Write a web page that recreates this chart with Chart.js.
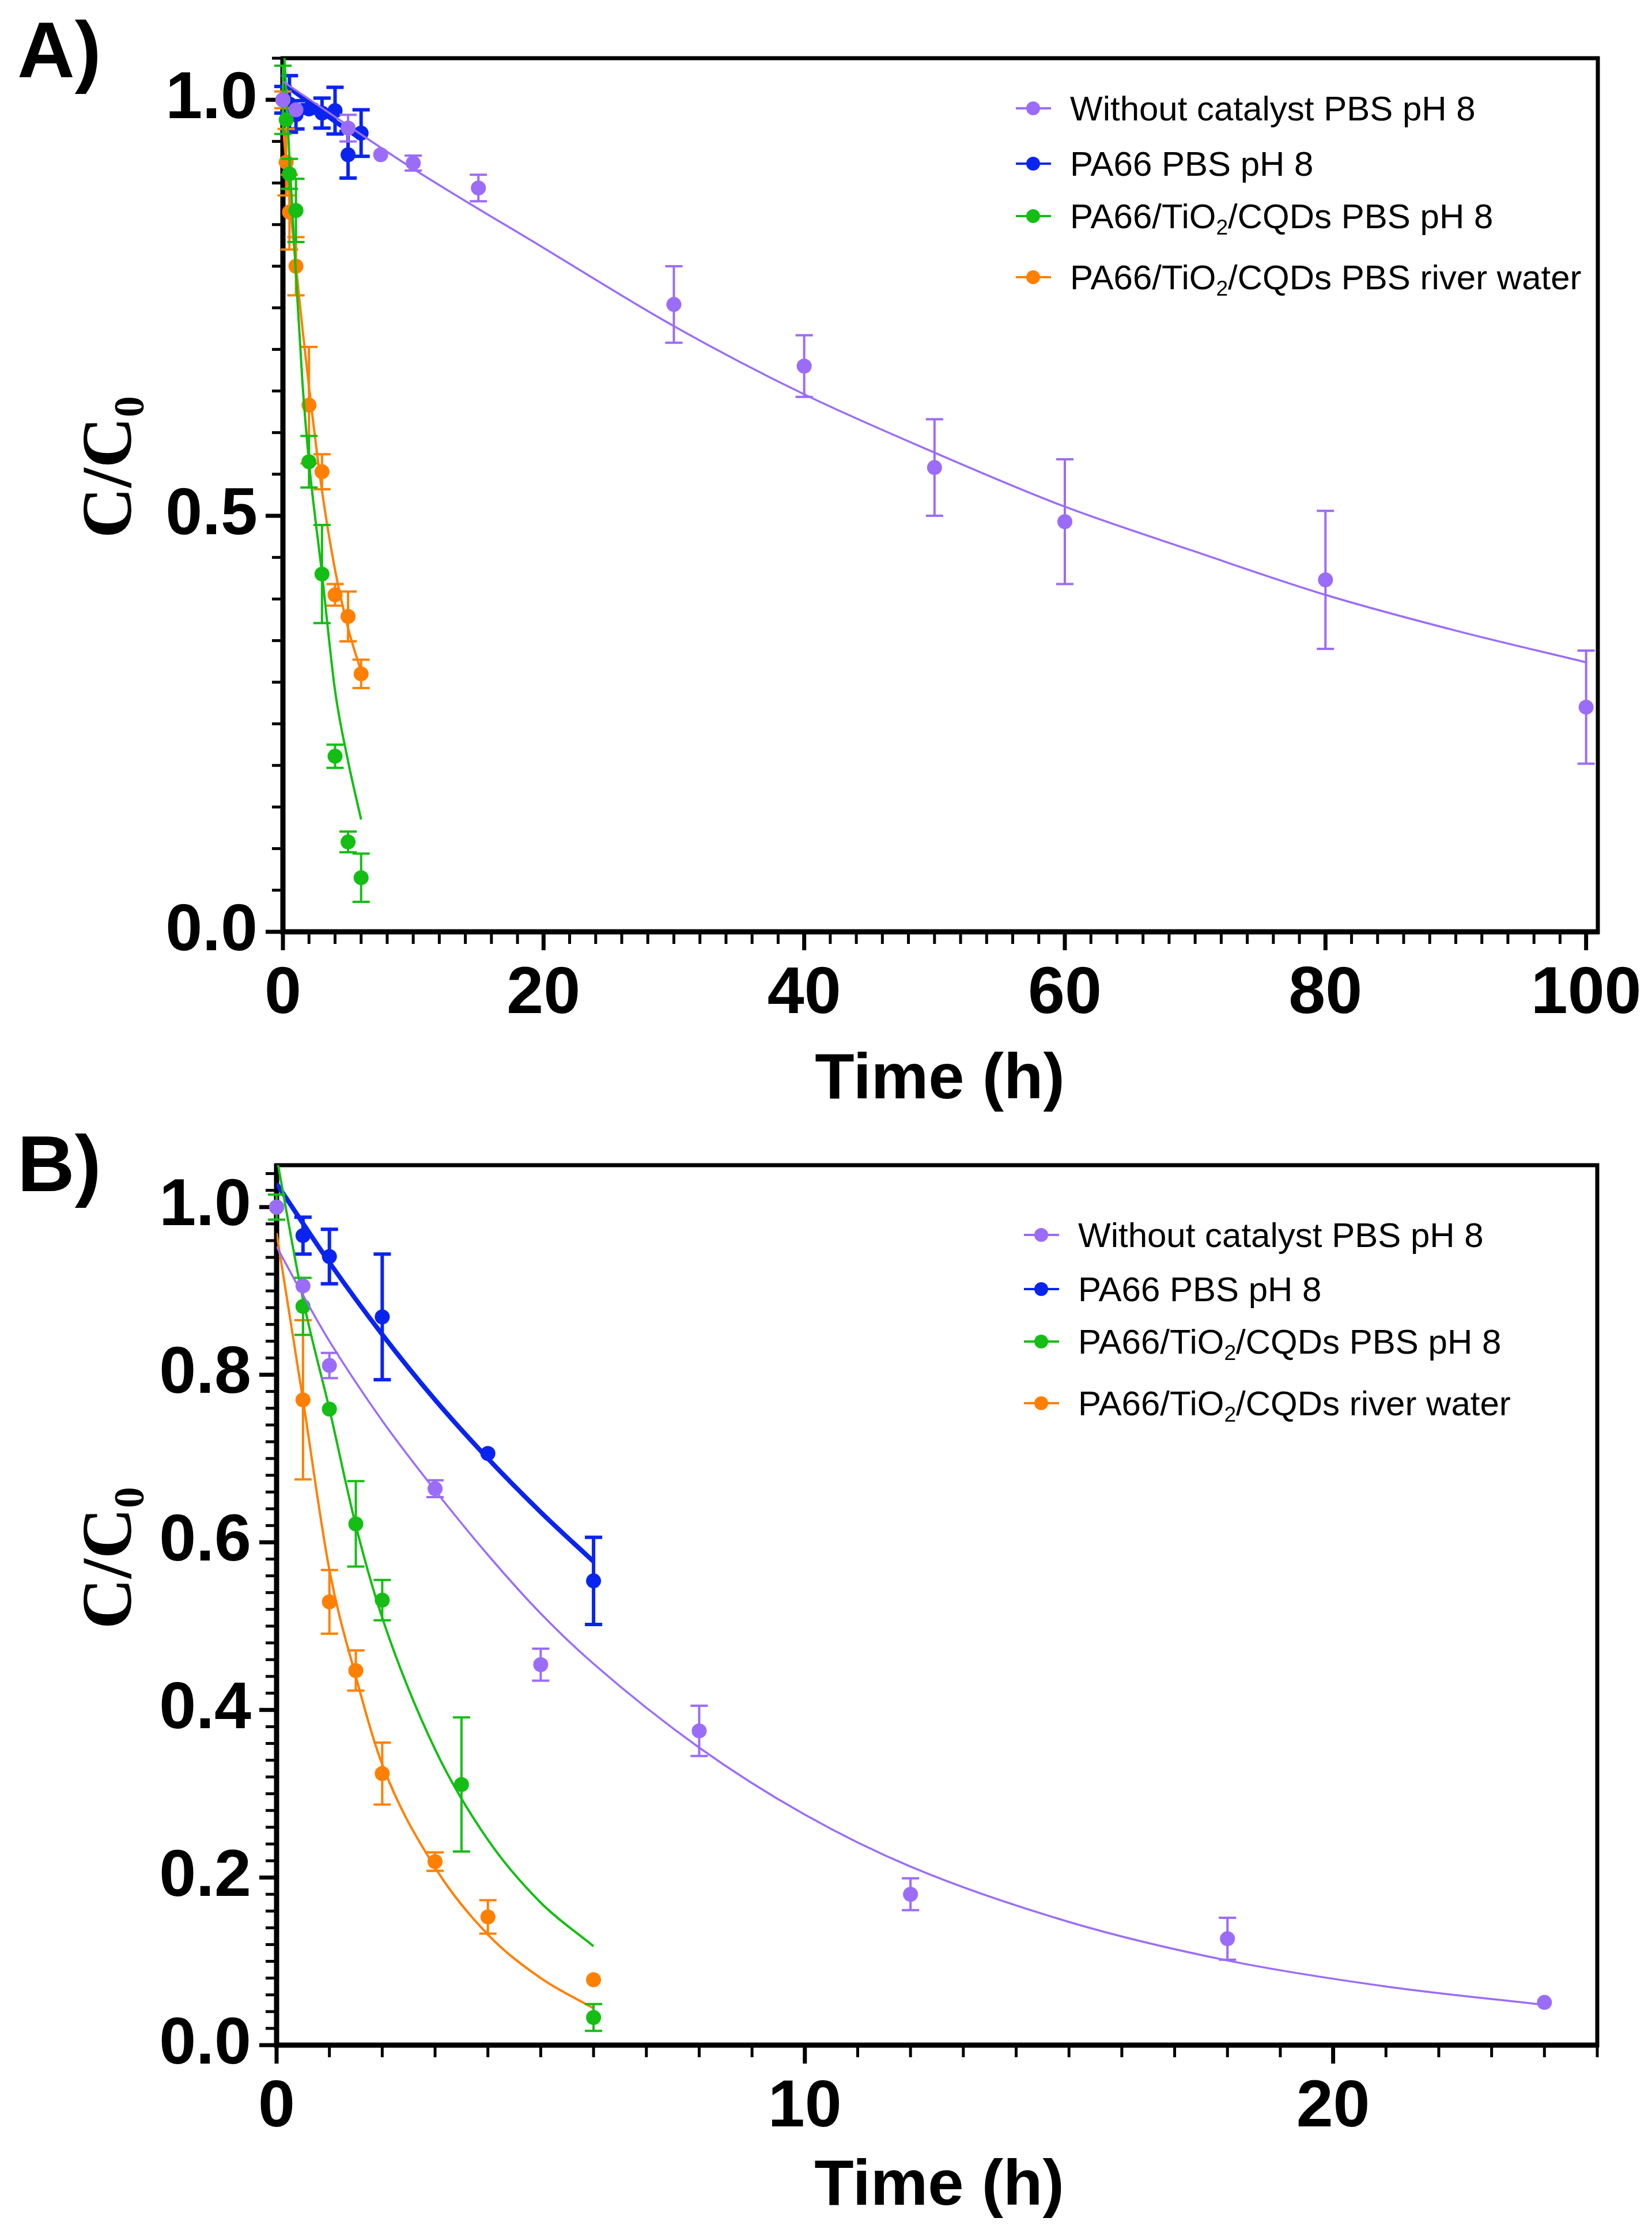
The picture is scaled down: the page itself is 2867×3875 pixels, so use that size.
<!DOCTYPE html>
<html>
<head>
<meta charset="utf-8">
<script src="https://cdn.jsdelivr.net/npm/chart.js@4.4.1/dist/chart.umd.min.js"></script>
<style>
  html, body { margin: 0; padding: 0; background: #fff; }
  body { position: relative; width: 2867px; height: 3875px; overflow: hidden; font-family: 'Liberation Sans', Arial, sans-serif; }
  canvas { position: absolute; left: 0; }
  .panel { position: absolute; font-weight: bold; font-size: 138px; line-height: 1; }
  .xtitle { position: absolute; font-weight: bold; font-size: 112px; line-height: 1; transform: translateX(-50%); white-space: nowrap; }
  .ytitle { position: absolute; font-family: 'Liberation Serif', 'Times New Roman', serif; font-weight: bold; font-size: 122px; line-height: 1; transform-origin: 0 0; transform: rotate(-90deg); white-space: nowrap; }
  .ytitle span { font-size: 0.6em; position: relative; top: 0.3em; line-height: 0; }
  .row { position: absolute; height: 0; }
  .mk { position: absolute; left: 0; top: -2px; width: 61px; height: 4px; background: var(--c); }
  .mk::after { content: ''; position: absolute; left: 18px; top: -10px; width: 24px; height: 24px; border-radius: 50%; background: var(--c); }
  .row span.t { position: absolute; left: 94px; top: -29px; font-size: 60px; line-height: 1; white-space: nowrap; }
  .row sub { font-size: 0.62em; vertical-align: -0.3em; line-height: 0; }
</style>
</head>
<body>
<canvas id="chartA" width="2867" height="1937" style="top:0"></canvas>
<canvas id="chartB" width="2867" height="1938" style="top:1937px"></canvas>

<div class="panel" style="left:30px; top:17px">A)</div>
<div class="panel" style="left:30px; top:1950px">B)</div>

<div class="ytitle" style="left:125px; top:934px">C/C<span>0</span></div>
<div class="ytitle" style="left:125px; top:2827px">C/C<span>0</span></div>

<div class="xtitle" style="left:1631px; top:1812px">Time (h)</div>
<div class="xtitle" style="left:1630px; top:3732px">Time (h)</div>

<!-- leyenda A -->
<div class="row" style="left:1763px; top:188px; --c:#9b6cf7"><i class="mk"></i><span class="t">Without catalyst PBS pH 8</span></div>
<div class="row" style="left:1763px; top:284px; --c:#0a24f0"><i class="mk"></i><span class="t">PA66 PBS pH 8</span></div>
<div class="row" style="left:1763px; top:375px; --c:#14be14"><i class="mk"></i><span class="t">PA66/TiO<sub>2</sub>/CQDs PBS pH 8</span></div>
<div class="row" style="left:1763px; top:481px; --c:#ff8000"><i class="mk"></i><span class="t">PA66/TiO<sub>2</sub>/CQDs PBS river water</span></div>

<!-- leyenda B -->
<div class="row" style="left:1777px; top:2143px; --c:#9b6cf7"><i class="mk"></i><span class="t">Without catalyst PBS pH 8</span></div>
<div class="row" style="left:1777px; top:2237px; --c:#0a24f0"><i class="mk"></i><span class="t">PA66 PBS pH 8</span></div>
<div class="row" style="left:1777px; top:2328px; --c:#14be14"><i class="mk"></i><span class="t">PA66/TiO<sub>2</sub>/CQDs PBS pH 8</span></div>
<div class="row" style="left:1777px; top:2435px; --c:#ff8000"><i class="mk"></i><span class="t">PA66/TiO<sub>2</sub>/CQDs river water</span></div>

<script>
// datos panel A (tiempo en h, C/C0 y error)
const purpleA_t = [0, 1, 5, 7.5, 10, 15, 30, 40, 50, 60, 80, 100];
const purpleA_v = [1.0, 0.988, 0.966, 0.934, 0.924, 0.894, 0.754, 0.680, 0.558, 0.493, 0.423, 0.270];
const purpleA_e = [0, 0, 0.016, 0, 0.009, 0.016, 0.046, 0.037, 0.058, 0.075, 0.083, 0.068];

const blueA_t = [0, 0.5, 1, 2, 3, 4, 5, 6];
const blueA_v = [1.0, 0.995, 0.982, 0.989, 0.984, 0.987, 0.934, 0.960];
const blueA_e = [0.016, 0.034, 0.017, 0.005, 0.018, 0.028, 0.028, 0.028];

const greenA_t = [0, 0.25, 0.5, 1, 2, 3, 4, 5, 6];
const greenA_v = [1.0, 0.976, 0.911, 0.867, 0.565, 0.430, 0.211, 0.108, 0.065];
const greenA_e = [0.041, 0, 0.018, 0.038, 0.031, 0.059, 0.014, 0.0125, 0.029];

const orangeA_t = [0, 0.25, 0.5, 1, 2, 3, 4, 5, 6];
const orangeA_v = [1.0, 0.925, 0.865, 0.800, 0.633, 0.553, 0.405, 0.379, 0.310];
const orangeA_e = [0.01, 0.04, 0.045, 0.035, 0.07, 0.021, 0.013, 0.030, 0.017];

// curvas ajustadas A
const purpleFitA_t = [0, 10, 20, 30, 40, 50, 60, 70, 80, 90, 100];
const purpleFitA_v = [1.022, 0.917, 0.822, 0.728, 0.646, 0.576, 0.511, 0.457, 0.405, 0.362, 0.324];
const blueFitA_t = [0, 2, 4, 6];
const blueFitA_v = [1.02, 0.997, 0.974, 0.953];
const greenFitA_t = [0, 0.5, 1, 1.5, 2, 3, 4, 5, 6];
const greenFitA_v = [1.09, 0.93, 0.79, 0.66, 0.565, 0.43, 0.29, 0.205, 0.135];
const orangeFitA_t = [0, 0.5, 1, 1.5, 2, 3, 4, 5, 6];
const orangeFitA_v = [0.97, 0.88, 0.80, 0.725, 0.655, 0.53, 0.435, 0.365, 0.313];

// datos panel B
const purpleB_t = [0, 0.5, 1, 3, 5, 8, 12, 18, 24];
const purpleB_v = [1.0, 0.906, 0.811, 0.664, 0.454, 0.375, 0.180, 0.127, 0.051];
const purpleB_e = [0, 0, 0.015, 0.01, 0.019, 0.03, 0.019, 0.025, 0];

const blueB_t = [0, 0.5, 1, 2, 4, 6];
const blueB_v = [1.0, 0.966, 0.941, 0.869, 0.706, 0.554];
const blueB_e = [0, 0.022, 0.0325, 0.075, 0, 0.052];

const greenB_t = [0, 0.5, 1, 1.5, 2, 3.5, 6];
const greenB_v = [1.0, 0.8815, 0.759, 0.622, 0.531, 0.311, 0.033];
const greenB_e = [0.015, 0.034, 0, 0.051, 0.024, 0.08, 0.016];

const orangeB_t = [0, 0.5, 1, 1.5, 2, 3, 4, 6];
const orangeB_v = [1.0, 0.770, 0.529, 0.447, 0.324, 0.219, 0.153, 0.078];
const orangeB_e = [0, 0.095, 0.038, 0.024, 0.037, 0.011, 0.020, 0];

// curvas ajustadas B
const purpleFitB_t = [0, 0.5, 1, 2, 3, 4, 5, 6, 8, 10, 12, 15, 18, 21, 24];
const purpleFitB_v = [0.953, 0.895, 0.84, 0.745, 0.662, 0.585, 0.515, 0.455, 0.355, 0.275, 0.213, 0.147, 0.101, 0.07, 0.048];
const blueFitB_t = [0, 1, 2, 3, 4, 5, 6];
const blueFitB_v = [1.028, 0.934, 0.848, 0.770, 0.700, 0.636, 0.577];
const greenFitB_t = [0, 0.5, 1, 1.5, 2, 3, 4, 5, 6];
const greenFitB_v = [1.06, 0.89, 0.759, 0.62, 0.51, 0.353, 0.245, 0.17, 0.118];
const orangeFitB_t = [0, 0.5, 1, 1.5, 2, 3, 4, 5, 6];
const orangeFitB_v = [0.969, 0.77, 0.567, 0.44, 0.335, 0.212, 0.132, 0.08, 0.044];

// etiquetas de los ejes
const xTicksA = [0, 20, 40, 60, 80, 100];
const yTicksA = [0, 0.5, 1.0];
const xTicksB = [0, 10, 20];
const yTicksB = [0, 0.2, 0.4, 0.6, 0.8, 1.0];

const colores = { purple: '#9b6cf7', blue: '#0a24f0', green: '#14be14', orange: '#ff8000' };

function pares(t, v) {
    return t.map((x, i) => ({ x: x, y: v[i] }));
}

// barras de error con tapas
const errorBars = {
    id: 'errorBars',
    beforeDatasetDraw(chart, args) {
        const ds = chart.data.datasets[args.index];
        if (!ds.errors) return;
        const xs = chart.scales.x, ys = chart.scales.y;
        const ctx = chart.ctx;
        ctx.save();
        ctx.strokeStyle = ds.backgroundColor;
        ctx.lineWidth = ds.errWidth;
        ds.data.forEach((p, i) => {
            const e = ds.errors[i];
            if (!e) return;
            const x = xs.getPixelForValue(p.x);
            const y1 = ys.getPixelForValue(p.y + e);
            const y2 = ys.getPixelForValue(p.y - e);
            ctx.beginPath();
            ctx.moveTo(x, y1); ctx.lineTo(x, y2);
            ctx.moveTo(x - 15, y1); ctx.lineTo(x + 15, y1);
            ctx.moveTo(x - 15, y2); ctx.lineTo(x + 15, y2);
            ctx.stroke();
        });
        ctx.restore();
    }
};

// marco y marcas de los ejes (mayores y menores)
const marco = {
    id: 'marco',
    beforeDatasetsDraw(chart, args, opts) {
        const { ctx, chartArea: a, scales: { x, y } } = chart;
        ctx.save();
        ctx.strokeStyle = '#000';
        ctx.lineCap = 'butt';
        // eje x
        const nx = Math.round(opts.xLast / opts.xMinor);
        for (let i = 0; i <= nx; i++) {
            const px = x.getPixelForValue(i * opts.xMinor);
            const major = i % opts.xEvery === 0;
            ctx.lineWidth = major ? 7 : 5;
            ctx.beginPath();
            ctx.moveTo(px, a.bottom);
            ctx.lineTo(px, a.bottom + (major ? 32 : 21));
            ctx.stroke();
        }
        // eje y
        const ny = Math.round(opts.yLast / opts.yMinor);
        for (let i = 0; i <= ny; i++) {
            const py = y.getPixelForValue(i * opts.yMinor);
            const major = i % opts.yEvery === 0;
            ctx.lineWidth = major ? 7 : 5;
            ctx.beginPath();
            ctx.moveTo(a.left, py);
            ctx.lineTo(a.left - (major ? 30 : 19), py);
            ctx.stroke();
        }
        // marco
        ctx.lineWidth = 7;
        ctx.strokeRect(a.left, a.top, a.right - a.left, a.bottom - a.top);
        ctx.lineWidth = 9;
        ctx.beginPath();
        ctx.moveTo(a.left, a.top - 3);
        ctx.lineTo(a.left, a.bottom);
        ctx.lineTo(a.right + 3, a.bottom);
        ctx.stroke();
        ctx.restore();
    }
};

function puntos(t, v, e, color, orden, errW) {
    return {
        data: pares(t, v), errors: e, errWidth: errW,
        backgroundColor: color, borderColor: color,
        pointRadius: 13, pointBorderWidth: 0, pointHoverRadius: 13,
        showLine: false, clip: false, order: orden
    };
}

function ajuste(t, v, color, ancho, orden) {
    return {
        data: pares(t, v), borderColor: color, backgroundColor: color,
        borderWidth: ancho, pointRadius: 0, showLine: true,
        cubicInterpolationMode: 'monotone', clip: 0, order: orden
    };
}

const fuenteTicks = { family: "'Liberation Sans', Arial, sans-serif", size: 115, weight: 'bold', lineHeight: 1.2 };

// quita el relleno automatico que Chart.js pone por las etiquetas de los extremos
function sinRelleno(s) {
    s.paddingTop = 0;
    s.paddingBottom = 0;
    s.paddingLeft = 0;
    s.paddingRight = 0;
}

function opciones(cfg) {
    return {
        responsive: false,
        animation: false,
        devicePixelRatio: 1,
        events: [],
        layout: { padding: { top: cfg.top, right: cfg.right, left: 0, bottom: 0 } },
        plugins: {
            legend: { display: false },
            tooltip: { enabled: false },
            marco: cfg.marco
        },
        scales: {
            x: {
                type: 'linear', min: 0, max: cfg.xMax,
                grid: { display: false, drawTicks: false },
                border: { display: false },
                afterBuildTicks: s => { s.ticks = cfg.xTicks.map(v => ({ value: v })); },
                afterFit: s => { s.height = cfg.xHeight; sinRelleno(s); },
                ticks: { padding: 40, autoSkip: false, maxRotation: 0, color: '#000', font: fuenteTicks,
                    callback: v => String(v) }
            },
            y: {
                type: 'linear', min: 0, max: 1.05,
                grid: { display: false, drawTicks: false },
                border: { display: false },
                afterBuildTicks: s => { s.ticks = cfg.yTicks.map(v => ({ value: v })); },
                afterFit: s => { s.width = cfg.yWidth; sinRelleno(s); },
                ticks: { padding: 44, autoSkip: false, color: '#000', font: fuenteTicks,
                    callback: v => Number(v).toFixed(1) }
            }
        }
    };
}

function graficaA() {
    const datasets = [
        puntos(purpleA_t, purpleA_v, purpleA_e, colores.purple, 3, 4),
        ajuste(purpleFitA_t, purpleFitA_v, colores.purple, 3.5, 4),
        puntos(greenA_t, greenA_v, greenA_e, colores.green, 5, 4),
        ajuste(greenFitA_t, greenFitA_v, colores.green, 4, 6),
        puntos(orangeA_t, orangeA_v, orangeA_e, colores.orange, 7, 4),
        ajuste(orangeFitA_t, orangeFitA_v, colores.orange, 4, 8),
        puntos(blueA_t, blueA_v, blueA_e, colores.blue, 9, 6),
        ajuste(blueFitA_t, blueFitA_v, colores.blue, 8, 10)
    ];
    const ctx = document.getElementById('chartA').getContext('2d');
    new Chart(ctx, {
        type: 'scatter',
        data: { datasets: datasets },
        options: opciones({
            top: 101, right: 94, xMax: 100.9, xHeight: 320, yWidth: 491,
            xTicks: xTicksA, yTicks: yTicksA,
            marco: { xMinor: 2, xEvery: 10, xLast: 100, yMinor: 0.05, yEvery: 10, yLast: 1.05 }
        }),
        plugins: [errorBars, marco]
    });
}

function graficaB() {
    const datasets = [
        puntos(purpleB_t, purpleB_v, purpleB_e, colores.purple, 3, 4),
        ajuste(purpleFitB_t, purpleFitB_v, colores.purple, 3.5, 4),
        puntos(greenB_t, greenB_v, greenB_e, colores.green, 5, 4),
        ajuste(greenFitB_t, greenFitB_v, colores.green, 4, 6),
        puntos(orangeB_t, orangeB_v, orangeB_e, colores.orange, 7, 4),
        ajuste(orangeFitB_t, orangeFitB_v, colores.orange, 4, 8),
        puntos(blueB_t, blueB_v, blueB_e, colores.blue, 9, 6),
        ajuste(blueFitB_t, blueFitB_v, colores.blue, 8, 10)
    ];
    const ctx = document.getElementById('chartB').getContext('2d');
    new Chart(ctx, {
        type: 'scatter',
        data: { datasets: datasets },
        options: opciones({
            top: 85, right: 95, xMax: 25, xHeight: 326, yWidth: 480,
            xTicks: xTicksB, yTicks: yTicksB,
            marco: { xMinor: 1, xEvery: 10, xLast: 25, yMinor: 0.02, yEvery: 10, yLast: 1.04 }
        }),
        plugins: [errorBars, marco]
    });
}

document.addEventListener('DOMContentLoaded', function () {
    graficaA();
    graficaB();
});
</script>
</body>
</html>
